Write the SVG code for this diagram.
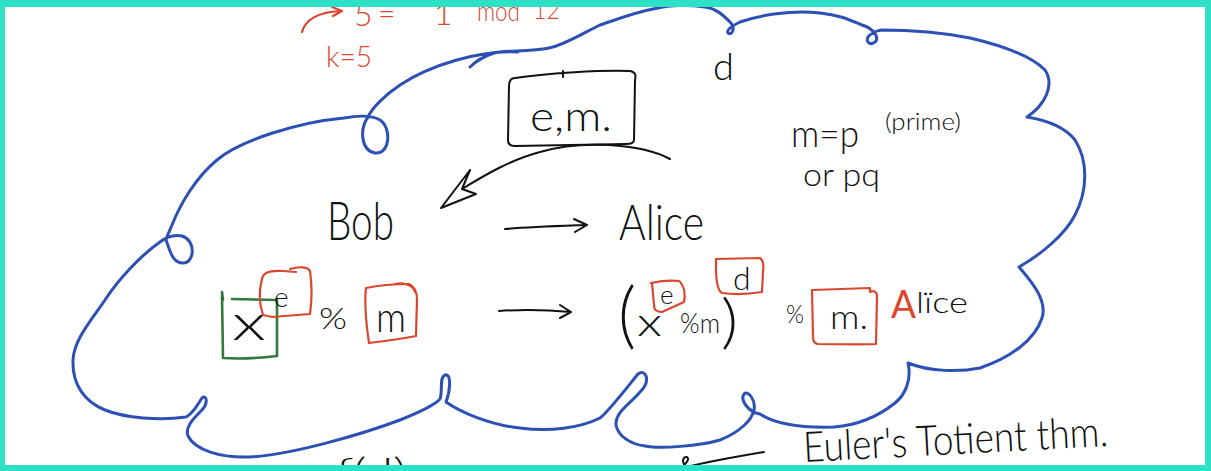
<svg xmlns="http://www.w3.org/2000/svg" width="1211" height="471" viewBox="0 0 1211 471">
<style>
.blue{fill:none;stroke:#2d50b4;stroke-width:3;stroke-linecap:round;stroke-linejoin:round}
.ink{fill:none;stroke:#111;stroke-width:2;stroke-linecap:round;stroke-linejoin:round}
.redl{fill:none;stroke:#d9472e;stroke-width:2.2;stroke-linecap:round;stroke-linejoin:round}
.greenl{fill:none;stroke:#2f7a3c;stroke-width:2.6;stroke-linecap:round;stroke-linejoin:round}
text{font-family:"Lato","Liberation Sans","DejaVu Sans",sans-serif;font-weight:300;fill:#111}
.rt{fill:#d9472e}
</style>
<rect x="0" y="0" width="1211" height="471" fill="#ffffff"/>

<g id="cloud">
<path class="blue" d="M518,52 C480,50 430,65 400,85 C385,95 372,108 368,117 C360,128 360,150 375,153 C390,155 392,128 380,120 C370,114 355,116 344,118 C300,122 240,140 217,160 C195,178 180,205 172,225 C169,232 167,236 166,240 C170,250 172,263 183,263 C195,263 196,240 182,236 C172,234 165,238 160,242 C140,256 118,280 105,300 C90,322 74,340 73,360 C72,385 85,402 105,410 C125,418 160,421 186,417 C195,412 200,400 202,398 C207,394 209,404 200,412 C192,420 185,428 188,436 C195,450 220,458 250,457 C290,455 360,435 400,420 C420,412 435,405 440,399 C443,390 439,378 445,375 C452,373 450,392 446,402 C460,412 490,425 520,428 C550,432 580,428 600,418 C608,412 625,390 638,374 C645,368 652,380 640,392 C630,404 615,412 616,425 C618,436 630,444 645,446 C660,449 700,446 720,440 C740,432 752,420 754,410 C756,400 748,390 744,394 C740,400 748,412 760,414 C775,424 800,428 834,427 C860,425 880,415 895,403 C905,395 912,380 908,363 C930,372 960,372 980,368 C1010,358 1035,340 1042,318 C1048,300 1030,280 1019,267 C1040,255 1065,235 1075,215 C1088,190 1088,160 1075,140 C1065,127 1045,120 1027,117 C1045,105 1055,85 1045,70 C1030,55 1000,45 970,38 C940,32 910,30 881,30 C876,31 870,34 868,37 C865,43 872,46 876,41 C879,36 872,28 862,25 C850,20 840,15 820,13 C790,10 760,15 740,22 C732,26 726,30 728,33 C732,36 736,28 730,22 C722,14 715,8 705,7 C690,5 670,5 658,8 C635,12 615,20 600,25 C585,32 565,45 549,48 C530,52 505,50 494,53 C485,56 477,60 470,67"/>
</g>

<g id="red-notes">
<path class="redl" d="M302,32 C305,20 318,12 340,11 M332,7 L342,11 L333,16"/>
<text class="rt" x="354" y="26" font-size="32">5</text>
<text class="rt" x="378" y="24" font-size="30">=</text>
<text class="rt" x="434" y="25" font-size="32">1</text>
<text class="rt" x="477" y="21" font-size="28" textLength="43" lengthAdjust="spacingAndGlyphs">mod</text>
<text class="rt" x="533" y="19" font-size="26" textLength="27" lengthAdjust="spacingAndGlyphs">12</text>
<text class="rt" x="326" y="67" font-size="30" textLength="46" lengthAdjust="spacingAndGlyphs">k=5</text>
</g>

<g id="public-key">
<path class="ink" d="M515,78 C550,73 600,70 630,71 C636,72 636,76 635,80 L634,140 C634,143 630,144 626,144 L515,146 C509,146 508,143 508,140 L509,86 C509,80 511,78 515,78 M563,71 L563,77"/>
<text x="530" y="131" font-size="42" textLength="82" lengthAdjust="spacingAndGlyphs">e,m.</text>
</g>

<g id="d-top"><text x="713" y="80" font-size="38">d</text></g>

<g id="modulus-note">
<text x="791" y="147" font-size="38" textLength="68" lengthAdjust="spacingAndGlyphs">m=p</text>
<text x="885" y="130" font-size="24" textLength="76" lengthAdjust="spacingAndGlyphs">(prime)</text>
<text x="803" y="186" font-size="32" textLength="77" lengthAdjust="spacingAndGlyphs">or pq</text>
</g>

<g id="bob"><text x="327" y="240" font-size="54" textLength="67" lengthAdjust="spacingAndGlyphs">Bob</text></g>
<g id="alice"><text x="619" y="240" font-size="50" textLength="85" lengthAdjust="spacingAndGlyphs">Alice</text></g>

<g id="connectors">
<path class="ink" d="M670,159 C640,143 580,140 540,152 C510,160 485,175 462,189 L470,170 L441,208 L476,194 L462,189"/>
<path class="ink" d="M505,229 C530,227 560,226 586,225 M574,219 L587,225 L575,232"/>
<path class="ink" d="M499,311 C525,309 550,310 571,312 M560,305 L571,312 L560,318"/>
<path class="ink" d="M764,452 C740,456 710,461 682,468 M686,467 C681,462 683,456 687,457 C690,459 686,464 680,469"/>
</g>

<g id="bob-formula">
<path class="greenl" d="M222,296 L223,358 C240,359 260,358 277,356 L277,300 L232,299 M223,300 L222,292"/>
<text x="232" y="340" font-size="50" textLength="34" lengthAdjust="spacingAndGlyphs">x</text>
<path class="redl" d="M262,279 C263,272 270,270 283,271 L296,272 M290,269 C300,266 308,267 310,271 C312,285 312,300 310,314 L272,317 L263,315 C259,303 259,290 262,279"/>
<text x="274" y="307" font-size="28">e</text>
<text x="319" y="329" font-size="30" textLength="28" lengthAdjust="spacingAndGlyphs">%</text>
<path class="redl" d="M366,288 C380,285 395,284 409,284 C414,286 417,292 417,300 L416,336 C400,339 385,341 369,343 L368,336 C366,320 364,305 366,288 M395,284 C405,282 414,286 415,292"/>
<text x="376" y="332" font-size="42" textLength="30" lengthAdjust="spacingAndGlyphs">m</text>
</g>

<g id="alice-formula">
<text x="618" y="340" font-size="72" textLength="18" lengthAdjust="spacingAndGlyphs">(</text>
<text x="637" y="336" font-size="40" textLength="25" lengthAdjust="spacingAndGlyphs">x</text>
<path class="redl" d="M651,283 C660,281 670,280 679,281 C684,285 686,295 684,302 L662,312 C656,312 654,310 654,305 L652,283"/>
<text x="660" y="304" font-size="26">e</text>
<text x="680" y="333" font-size="28" textLength="40" lengthAdjust="spacingAndGlyphs">%m</text>
<text x="721" y="342" font-size="60" textLength="17" lengthAdjust="spacingAndGlyphs">)</text>
<path class="redl" d="M716,259 L760,258 C763,260 764,265 763,272 L762,292 C750,294 735,295 722,293 C717,290 716,280 716,268 Z"/>
<text x="733" y="290" font-size="32">d</text>
<text x="786" y="323" font-size="26" textLength="18" lengthAdjust="spacingAndGlyphs">%</text>
<path class="redl" d="M812,290 L870,288 L870,292 C874,290 877,292 877,296 L876,344 C860,345 840,344 818,344 C813,343 813,340 813,335 Z"/>
<text x="830" y="329" font-size="34" textLength="38" lengthAdjust="spacingAndGlyphs">m.</text>
<text class="rt" x="891" y="318" font-size="38" textLength="25" lengthAdjust="spacingAndGlyphs" style="font-weight:400">A</text>
<text x="916" y="313" font-size="30" textLength="52" lengthAdjust="spacingAndGlyphs">lïce</text>
</g>

<g id="bottom-notes">
<text x="804" y="462" font-size="42" textLength="305" lengthAdjust="spacingAndGlyphs" transform="rotate(-3 804 462)">Euler's Totient thm.</text>
<text x="336" y="482" font-size="34" textLength="70" lengthAdjust="spacingAndGlyphs">f(d)</text>
</g>

<g id="frame">
<rect x="0" y="0" width="1211" height="7" fill="#2ee0c6"/>
<rect x="0" y="0" width="5" height="471" fill="#2ee0c6"/>
<rect x="1205" y="0" width="6" height="471" fill="#2ee0c6"/>
<rect x="0" y="465" width="1211" height="6" fill="#2ee0c6"/>
</g>
</svg>
